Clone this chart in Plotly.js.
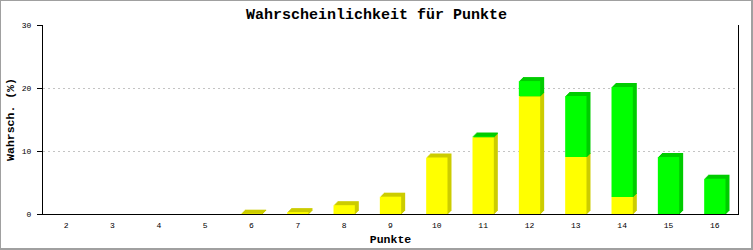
<!DOCTYPE html>
<html>
<head>
<meta charset="utf-8">
<script src="https://cdn.plot.ly/plotly-3.0.1.min.js"></script>
<style>
  body { margin: 0; background: #fff; }
  #wrap { position: relative; width: 753px; height: 250px; }
  #chart { position: absolute; left: 0; top: 0; width: 753px; height: 250px; }
  #frame { position: absolute; left: 0; top: 0; width: 753px; height: 250px; box-sizing: border-box;
           border-style: solid; border-color: #a0a0a0; border-width: 1px 2px 2px 1px; pointer-events: none; }
</style>
</head>
<body>
<div id="wrap"><div id="chart"></div><div id="frame"></div></div>
<script>
// ---- data ----
const categories = [2, 3, 4, 5, 6, 7, 8, 9, 10, 11, 12, 13, 14, 15, 16];
const tickLabels = ['2', '3', '4', '5', '6', '7', '8', '9', '10', '11', '12', '13', '14', '15', '16'];
const yellowValues = [0, 0, 0, 0, 0.05, 0.3, 1.4, 2.75, 8.95, 12.2, 18.7, 9.05, 2.7, 0, 0];
const greenValues  = [0, 0, 0, 0, 0, 0, 0, 0, 0, 0.1, 2.4, 9.7, 17.45, 9.05, 5.6];
const yTicks = [0, 10, 20, 30];

// ---- layout constants ----
const W = 753, H = 250;
const M = { l: 43, r: 15, t: 25, b: 36 };
const xRange = [1.5, 16.5];
const yRange = [0, 30];
const plotW = W - M.l - M.r, plotH = H - M.t - M.b;
const PX = (xRange[1] - xRange[0]) / plotW;   // x data units per pixel
const PY = (yRange[1] - yRange[0]) / plotH;   // y data units per pixel
const BAR_W = 0.46;
const DEPTH = 4;
const FONT = 'Liberation Mono, DejaVu Sans Mono, monospace';

function seriesTraces(bases, heights, front, dark) {
  const out = [];
  for (let k = DEPTH; k >= 1; k--) {
    out.push({
      type: 'bar', x: categories,
      y: heights.map(h => h > 0 ? h + PY : 0),
      base: bases.map(b => b + (k - 1) * PY),
      width: BAR_W, offset: -BAR_W / 2 + k * PX,
      marker: { color: dark, line: { width: 0 } },
      hoverinfo: 'skip', showlegend: false
    });
  }
  out.push({
    type: 'bar', x: categories, y: heights, base: bases,
    width: BAR_W, offset: -BAR_W / 2,
    marker: { color: front, line: { width: 0 } },
    hoverinfo: 'skip', showlegend: false
  });
  return out;
}

const zeros = categories.map(() => 0);
const traces = []
  .concat(seriesTraces(zeros, yellowValues, '#ffff00', '#cccc00'))
  .concat(seriesTraces(yellowValues, greenValues, '#00ff00', '#00cc00'));

const layout = {
  width: W, height: H,
  margin: M,
  paper_bgcolor: '#ffffff', plot_bgcolor: '#ffffff',
  barmode: 'overlay',
  showlegend: false,
  title: {
    text: 'Wahrscheinlichkeit für Punkte',
    font: { family: FONT, size: 15, color: '#000', weight: 'bold' },
    xref: 'container', x: 0.5, xanchor: 'center',
    yref: 'container', y: 1 - 13.5 / H, yanchor: 'middle'
  },
  xaxis: {
    range: xRange, tickvals: categories, ticktext: tickLabels,
    showgrid: false, zeroline: false,
    showline: true, linecolor: '#000', linewidth: 1,
    ticks: '', ticklabelstandoff: 3,
    tickfont: { family: FONT, size: 8, color: '#000' },
    title: { text: 'Punkte', font: { family: FONT, size: 11.5, color: '#000', weight: 'bold' }, standoff: 6 },
    fixedrange: true
  },
  yaxis: {
    range: yRange, tickvals: yTicks, ticktext: yTicks.map(String),
    showgrid: true, gridcolor: '#c4c4c4', griddash: '2px,3px', gridwidth: 1,
    zeroline: false,
    showline: true, mirror: true, linecolor: '#000', linewidth: 1,
    ticks: 'outside', ticklen: 5, tickcolor: '#000', tickwidth: 1, ticklabelstandoff: 4,
    tickfont: { family: FONT, size: 8, color: '#000' },
    title: { text: 'Wahrsch. (%)', font: { family: FONT, size: 11.5, color: '#000', weight: 'bold' }, standoff: 4 },
    fixedrange: true
  }
};

Plotly.newPlot('chart', traces, layout, { staticPlot: true, displayModeBar: false });
</script>
</body>
</html>
